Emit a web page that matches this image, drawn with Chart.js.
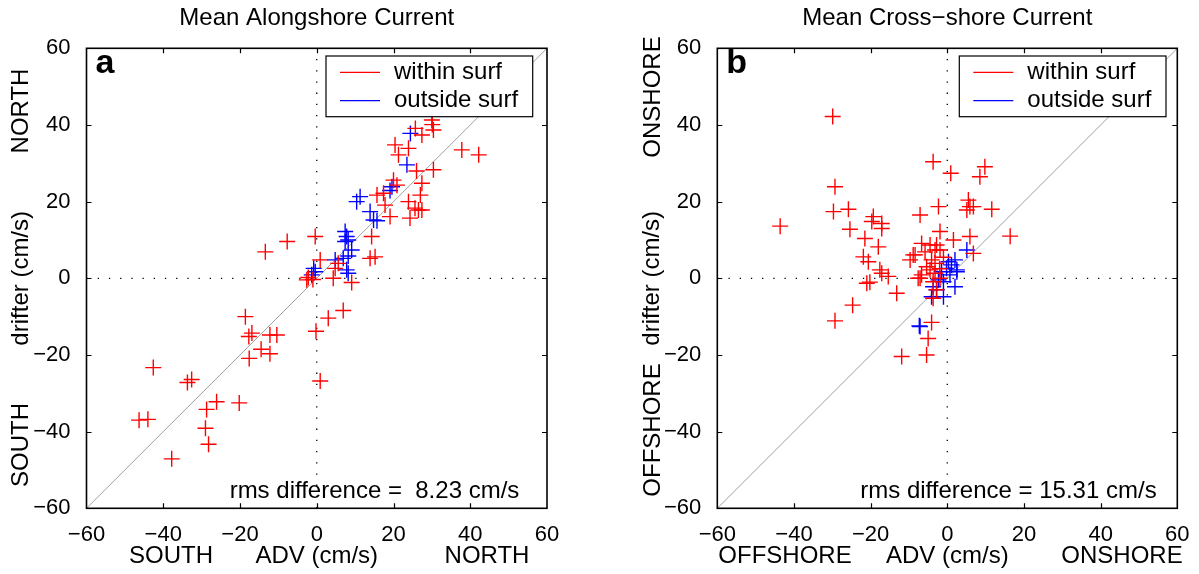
<!DOCTYPE html>
<html>
<head>
<meta charset="utf-8">
<script src="https://cdn.jsdelivr.net/npm/chart.js@4.4.0/dist/chart.umd.min.js"></script>
<style>
  body { margin: 0; background: #fff; }
  #wrap { position: relative; width: 1199px; height: 574px; overflow: hidden; }
  canvas { position: absolute; top: 0; }
  #chart_a { left: 0; }
  #chart_b { left: 630px; }
</style>
</head>
<body>
<div id="wrap">
  <canvas id="chart_a" width="600" height="574"></canvas>
  <canvas id="chart_b" width="569" height="574"></canvas>
</div>
<script>
// dati (cm/s): ADV sull'asse x, drifter sull'asse y

// pannello a - corrente lungo costa, dentro la zona dei frangenti
var alongInAdv = [-13.4, -7.7, -0.4, 0.9, 5.6, 4.8, 4.3, -2.6, -2.2, -1.0, 9.1, 14.3, 13.9, 15.2, 15.7, 17.4,
  17.8, 19.1, 20.0, 20.9, 23.9, 27.0, 27.4, 25.6, 27.4, 24.3, 26.5, 20.4, 21.3, 23.9, 25.7, 27.4, 30.0, 30.1,
  30.4, 26.0, 30.4, 37.8, 42.2, 6.9, 3.0, -0.2, 0.9, -18.6, -16.9, -17.7, -12.2, -10.4, -14.5, -12.2, -17.6,
  -42.6, -33.7, -32.6, -26.1, -28.7, -20.2, -46.3, -44.0, -29.0, -28.2, -37.8];
var alongInDrifter = [6.9, 9.6, 10.9, 4.8, 3.9, 2.6, 0.0, -0.4, 0.2, -0.3, -1.1, 10.9, 5.2, 5.6, 21.7, 22.2,
  19.1, 16.1, 25.6, 24.3, 20.0, 21.7, 24.8, 18.3, 17.8, 15.7, 17.8, 34.8, 32.2, 33.9, 39.1, 37.4, 41.3, 40.1,
  38.7, 28.0, 28.3, 33.5, 32.2, -8.4, -10.4, -13.8, -26.8, -10.0, -14.3, -15.2, -14.8, -14.8, -18.5, -19.7, -20.9,
  -23.3, -27.2, -26.4, -32.2, -34.2, -32.5, -37.0, -36.8, -39.1, -43.3, -47.1];

// pannello a - fuori dalla zona dei frangenti
var alongOutAdv = [11.3, 10.4, 13.9, 14.8, 15.7, 7.4, 7.8, 8.2, 7.4, 9.1, 8.2, 6.9, 4.8, 7.8, 8.2, -0.4, -1.3,
  -0.8, 19.6, 19.1, 23.5, 24.4];
var alongOutDrifter = [21.3, 20.0, 17.4, 15.2, 15.0, 12.2, 10.9, 10.0, 9.6, 7.4, 5.8, 5.2, 4.8, 2.2, 1.3, 1.7, 0.9,
  2.6, 23.9, 22.9, 29.6, 37.8];

// pannello b - corrente trasversale, dentro la zona dei frangenti
var crossInAdv = [-29.9, -29.3, -29.7, -25.8, -43.6, -25.4, -19.3, -19.7, -17.1, -17.1, -21.5, -18.0, -21.9,
  -20.6, -17.6, -15.4, -21.0, -20.2, -13.2, -17.1, -29.3, -24.7, -11.9, -5.4, -5.0, -4.1, -3.7, -7.1, -7.6,
  -6.7, -4.5, -3.2, -3.7, -1.9, -2.8, -5.4, -4.1, -3.2, -9.7, -8.9, -5.8, -6.7, -4.5, -2.8, -3.2, -1.9, -1.9,
  1.6, 5.9, -2.3, -7.1, -3.7, 0.9, 9.8, 8.5, 5.5, 5.9, 5.1, 6.8, 11.6, 16.4, 6.8, -8.4, -1.0, -2.0];
var crossInDrifter = [42.2, 23.9, 17.4, 18.0, 13.6, 12.8, 16.1, 14.8, 14.3, 13.0, 10.4, 8.2, 5.6,
  4.3, 2.2, 0.5, -1.3, -1.0, -3.9, 1.3, -11.1, -7.0, -20.4, -20.0, -15.7, -11.5, -5.2, 0.0, 0.0,
  0.9, 2.2, 1.3, -0.9, 0.0, -3.0, 3.0, 4.8, 3.9, 4.8, 6.1, 6.9, 9.1, 8.7, 8.7, 7.4, 7.4, 12.2,
  10.0, 10.9, 18.7, 16.5, 30.4, 27.4, 29.1, 26.5, 20.4, 18.7, 17.8, 18.7, 18.0, 11.0, 6.5, 6.1, 5.5, 2.5];

// pannello b - fuori dalla zona dei frangenti
var crossOutAdv = [5.1, 2.0, 1.1, -0.2, 2.5, -1.5, 0.7, -2.3, -1.0, 2.0, -3.7, -2.8, -1.0, -4.1, 0.3, 2.5, -7.1, -7.3];
var crossOutDrifter = [7.4, 4.8, 3.5, 2.6, 2.2, 1.7, 0.9, -0.4, -0.9, -2.2, -2.2, -3.0, -4.8, -4.8, 4.3, 1.7, -12.6, -12.4];

// assi e riferimenti
var axisMin = -60;
var axisMax = 60;
var tickStep = 20;
var oneToOne = [-60, 60];

var seriesNames = ["within surf", "outside surf"];

var FONT = "'Liberation Sans', Arial, Helvetica, sans-serif";


//funzione per unire due liste in punti {x, y}
function toPoints(xs, ys) {
  var pts = [];
  for (var i = 0; i < xs.length; i++) {
    pts.push({ x: xs[i], y: ys[i] });
  }
  return pts;
}


//plugin per cornice, tacche interne, legenda e testi del pannello
var panelDeco = {
  id: "panelDeco",

  afterDraw: function(chart, args, opts) {
    var ctx = chart.ctx;
    var area = chart.chartArea;
    var xs = chart.scales.x;
    var ys = chart.scales.y;

    ctx.save();

    // tacche interne su tutti e quattro i lati
    ctx.strokeStyle = "#000";
    ctx.lineWidth = 1.2;
    ctx.beginPath();
    xs.ticks.forEach(function(t) {
      if (t.value <= axisMin || t.value >= axisMax) return;
      var px = Math.round(xs.getPixelForValue(t.value)) + 0.5;
      ctx.moveTo(px, area.bottom); ctx.lineTo(px, area.bottom - 5);
      ctx.moveTo(px, area.top); ctx.lineTo(px, area.top + 5);
    });
    ys.ticks.forEach(function(t) {
      if (t.value <= axisMin || t.value >= axisMax) return;
      var py = Math.round(ys.getPixelForValue(t.value)) + 0.5;
      ctx.moveTo(area.left, py); ctx.lineTo(area.left + 5, py);
      ctx.moveTo(area.right, py); ctx.lineTo(area.right - 5, py);
    });
    ctx.stroke();

    // cornice
    ctx.lineWidth = 1.6;
    ctx.strokeRect(area.left, area.top, area.right - area.left, area.bottom - area.top);

    // lettera del pannello
    ctx.fillStyle = "#000";
    ctx.font = "bold 34px " + FONT;
    ctx.textAlign = "left";
    ctx.textBaseline = "alphabetic";
    ctx.fillText(opts.letter, area.left + 9, area.top + 25);

    // testo rms
    ctx.font = "24px " + FONT;
    ctx.fillText(opts.rms, xs.getPixelForValue(-22.7), area.bottom - 10);

    // etichette agli estremi dell'asse x
    ctx.textAlign = "center";
    ctx.textBaseline = "middle";
    ctx.fillText(opts.xEnds[0], opts.xEndsPx[0], 556);
    ctx.fillText(opts.xEnds[1], opts.xEndsPx[1], 556);

    // etichette agli estremi dell'asse y (ruotate)
    for (var k = 0; k < 2; k++) {
      ctx.save();
      ctx.translate(opts.yEndsX, opts.yEndsPx[k]);
      ctx.rotate(-Math.PI / 2);
      ctx.fillText(opts.yEnds[k], 0, 0);
      ctx.restore();
    }

    // legenda
    var w = 206.7, h = 60.7;
    var bx = area.right - opts.legendRight - w;
    var by = area.top + 7.7;
    ctx.fillStyle = "#fff";
    ctx.fillRect(bx, by, w, h);
    ctx.strokeStyle = "#000";
    ctx.lineWidth = 1.2;
    ctx.strokeRect(bx, by, w, h);

    var rows = [16.3, 44.7];
    chart.data.datasets.slice(0, 2).forEach(function(ds, i) {
      ctx.strokeStyle = ds.borderColor;
      ctx.lineWidth = 1.3;
      ctx.beginPath();
      ctx.moveTo(bx + 14, by + rows[i]);
      ctx.lineTo(bx + 54, by + rows[i]);
      ctx.stroke();
      ctx.fillStyle = "#000";
      ctx.textAlign = "left";
      ctx.textBaseline = "middle";
      ctx.font = "24px " + FONT;
      ctx.fillText(ds.label, bx + 68, by + rows[i]);
    });

    ctx.restore();
  }
};


//funzione per stampare un pannello
function printPanel(canvasId, cfg) {
  var ctx = document.getElementById(canvasId).getContext("2d");

  var tickFont = { family: FONT, size: 22 };
  var labelFont = { family: FONT, size: 24 };

  return new Chart(ctx, {
    type: "scatter",
    data: {
      datasets: [{
        label: seriesNames[0],
        data: toPoints(cfg.inX, cfg.inY),
        pointStyle: "cross",
        pointRadius: 8,
        pointHoverRadius: 8,
        borderWidth: 1.4,
        borderColor: "rgb(255, 0, 0)",
        order: 1
      }, {
        label: seriesNames[1],
        data: toPoints(cfg.outX, cfg.outY),
        pointStyle: "cross",
        pointRadius: 8,
        pointHoverRadius: 8,
        borderWidth: 1.4,
        borderColor: "rgb(0, 0, 255)",
        order: 2
      }, {
        label: "1:1",
        data: toPoints(oneToOne, oneToOne),
        showLine: true,
        pointRadius: 0,
        borderWidth: 1,
        borderColor: "rgb(160, 160, 160)",
        order: 5
      }, {
        label: "x0",
        data: toPoints([0, 0], [axisMin, axisMax]),
        showLine: true,
        pointRadius: 0,
        borderWidth: 1.3,
        borderDash: [1.3, 9.9],
        borderColor: "#000",
        order: 6
      }, {
        label: "y0",
        data: toPoints([axisMin, axisMax], [0, 0]),
        showLine: true,
        pointRadius: 0,
        borderWidth: 1.3,
        borderDash: [1.3, 9.9],
        borderColor: "#000",
        order: 6
      }]
    },
    options: {
      responsive: false,
      animation: false,
      events: [],
      layout: { padding: { left: 0, right: cfg.padRight, top: 0, bottom: 0 } },
      plugins: {
        legend: { display: false },
        tooltip: { enabled: false },
        title: {
          display: true,
          text: cfg.title,
          fullSize: false,
          color: "#000",
          font: { family: FONT, size: 24, weight: "normal" },
          padding: { top: 3.6, bottom: 15.9 }
        },
        panelDeco: cfg.deco
      },
      scales: {
        x: {
          type: "linear",
          min: axisMin,
          max: axisMax,
          afterFit: function(scale) { scale.height = 65.7; },
          grid: { display: false },
          border: { display: false },
          ticks: {
            stepSize: tickStep,
            color: "#000",
            font: tickFont,
            padding: 5,
            maxRotation: 0,
            callback: function(v) { return v < 0 ? "\u2212" + Math.abs(v) : "" + v; }
          },
          title: {
            display: true,
            text: "ADV (cm/s)",
            color: "#000",
            font: labelFont,
            padding: { top: 0, bottom: 3.6 }
          }
        },
        y: {
          type: "linear",
          min: axisMin,
          max: axisMax,
          afterFit: function(scale) { scale.width = cfg.yWidth; },
          grid: { display: false },
          border: { display: false },
          ticks: {
            stepSize: tickStep,
            color: "#000",
            font: tickFont,
            padding: 8,
            callback: function(v) { return v < 0 ? "\u2212" + Math.abs(v) : "" + v; }
          },
          title: {
            display: true,
            text: "drifter (cm/s)",
            color: "#000",
            font: labelFont,
            padding: { top: cfg.yTitlePad, bottom: 0 }
          }
        }
      }
    },
    plugins: [panelDeco]
  });
}


printPanel("chart_a", {
  title: "Mean Alongshore Current",
  inX: alongInAdv, inY: alongInDrifter,
  outX: alongOutAdv, outY: alongOutDrifter,
  padRight: 53,
  yWidth: 86.5,
  yTitlePad: 6.6,
  deco: {
    letter: "a",
    rms: "rms difference =  8.23 cm/s",
    xEnds: ["SOUTH", "NORTH"], xEndsPx: [171, 487],
    yEnds: ["NORTH", "SOUTH"], yEndsPx: [111, 445], yEndsX: 21,
    legendRight: 14.3
  }
});

printPanel("chart_b", {
  title: "Mean Cross\u2212shore Current",
  inX: crossInAdv, inY: crossInDrifter,
  outX: crossOutAdv, outY: crossOutDrifter,
  padRight: 21.7,
  yWidth: 87.3,
  yTitlePad: 8,
  deco: {
    letter: "b",
    rms: "rms difference = 15.31 cm/s",
    xEnds: ["OFFSHORE", "ONSHORE"], xEndsPx: [785 - 630, 1122 - 630],
    yEnds: ["ONSHORE", "OFFSHORE"], yEndsPx: [97, 430], yEndsX: 23,
    legendRight: 11.3
  }
});
</script>
</body>
</html>
